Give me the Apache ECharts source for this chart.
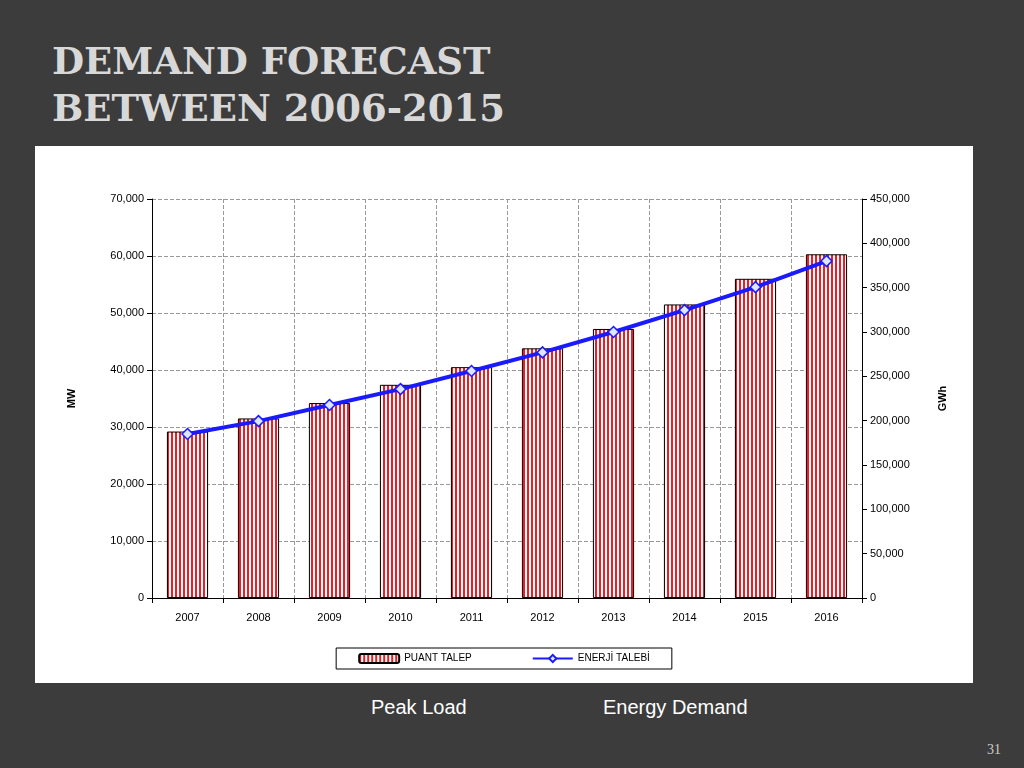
<!DOCTYPE html>
<html>
<head>
<meta charset="utf-8">
<script src="https://cdn.jsdelivr.net/npm/echarts@6/dist/echarts.min.js"></script>
<style>
  body { margin: 0; background: #3c3c3c; }
  #page { position: relative; width: 1024px; height: 768px; background: #3c3c3c; overflow: hidden; }
  .title { position: absolute; left: 52px; top: 38px; font-family: "DejaVu Serif", "Liberation Serif", serif; font-weight: bold; font-size: 37px; line-height: 47px; color: #d8d8d8; }
  #panel { position: absolute; left: 35px; top: 146px; width: 938px; height: 537px; background: #fff; }
  #chart { width: 938px; height: 537px; }
  .cap { position: absolute; top: 696px; font-family: "Liberation Sans", Arial, sans-serif; font-size: 20px; color: #fff; }
  .num { position: absolute; left: 987px; top: 742px; font-family: "Liberation Serif", serif; font-size: 14px; color: #ccc; }
</style>
</head>
<body>
<div id="page">
  <div class="title">DEMAND FORECAST<br>BETWEEN 2006-2015</div>
  <div id="panel"><div id="chart"></div></div>
  <div class="cap" style="left:371px">Peak Load</div>
  <div class="cap" style="left:603px">Energy Demand</div>
  <div class="num">31</div>
</div>
<script>
var years = ['2007', '2008', '2009', '2010', '2011', '2012', '2013', '2014', '2015', '2016'];
var peakLoad = [29200, 31500, 34200, 37400, 40500, 43800, 47200, 51500, 56000, 60300];
var energyDemand = [185000, 199500, 217600, 235600, 256000, 277000, 300000, 324700, 350600, 380000];

var stripe = document.createElement('canvas');
stripe.width = 4;
stripe.height = 4;
var ctx = stripe.getContext('2d');
ctx.fillStyle = '#ffffff';
ctx.fillRect(0, 0, 4, 4);
ctx.fillStyle = '#ee1c25';
ctx.fillRect(0, 0, 2, 4);

var myChart = echarts.init(document.getElementById('chart'));
var axisText = { color: '#000', fontSize: 11, fontFamily: 'Liberation Sans, Arial' };
var option = {
    animation: false,
    grid: { left: 117, right: 111, top: 53, bottom: 85 },
    legend: {
        bottom: 14,
        left: 'center',
        itemGap: 60,
        itemWidth: 40,
        itemHeight: 9,
        padding: [5, 22],
        borderColor: '#000',
        borderWidth: 1,
        textStyle: { color: '#000', fontSize: 10, fontFamily: 'Liberation Sans, Arial' },
        data: ['PUANT TALEP', 'ENERJİ TALEBİ']
    },
    xAxis: {
        type: 'category',
        data: years,
        axisLine: { lineStyle: { color: '#000' } },
        axisTick: { show: true, lineStyle: { color: '#000' } },
        axisLabel: Object.assign({ margin: 14 }, axisText),
        splitLine: { show: true, interval: 0, lineStyle: { color: '#999', type: 'dashed' } }
    },
    yAxis: [
        {
            type: 'value', name: 'MW', nameLocation: 'middle', nameGap: 75, nameRotate: 90,
            nameTextStyle: { color: '#000', fontWeight: 'bold', fontSize: 11 },
            min: 0, max: 70000, interval: 10000,
            axisLine: { show: true, lineStyle: { color: '#000' } },
            axisTick: { show: true },
            axisLabel: axisText,
            splitLine: { lineStyle: { color: '#999', type: 'dashed' } }
        },
        {
            type: 'value', name: 'GWh', nameLocation: 'middle', nameGap: 75, nameRotate: 90,
            nameTextStyle: { color: '#000', fontWeight: 'bold', fontSize: 11 },
            min: 0, max: 450000, interval: 50000,
            axisLine: { show: true, lineStyle: { color: '#000' } },
            axisTick: { show: true },
            axisLabel: axisText,
            splitLine: { show: false }
        }
    ],
    series: [
        {
            name: 'PUANT TALEP',
            type: 'bar',
            barWidth: '58%',
            data: peakLoad,
            itemStyle: { color: { image: stripe, repeat: 'repeat' }, borderColor: '#000', borderWidth: 1 }
        },
        {
            name: 'ENERJİ TALEBİ',
            type: 'line',
            yAxisIndex: 1,
            data: energyDemand,
            symbol: 'diamond',
            symbolSize: 11,
            lineStyle: { color: '#1a1aff', width: 4 },
            itemStyle: { color: '#dde6ff', borderColor: '#1a1aff', borderWidth: 1.5 }
        }
    ]
};
myChart.setOption(option);
</script>
</body>
</html>
